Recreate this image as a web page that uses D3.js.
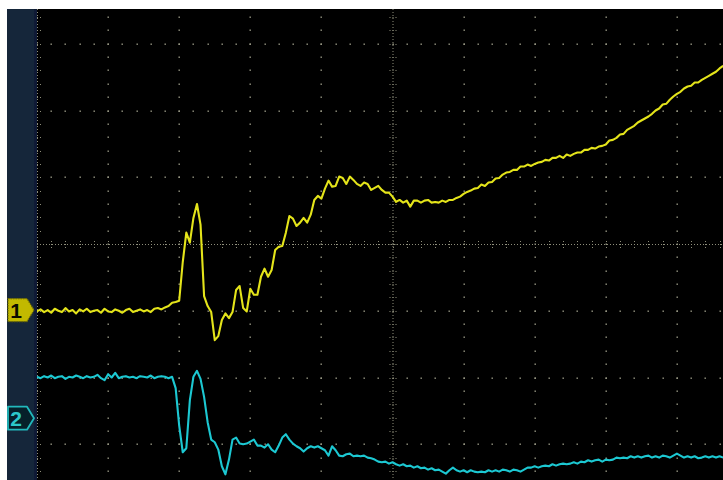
<!DOCTYPE html>
<html>
<head>
<meta charset="utf-8">
<script src="https://cdn.jsdelivr.net/npm/d3@7"></script>
<style>
  html, body { margin: 0; background: #fff; }
  svg { display: block; }
</style>
</head>
<body>
<svg width="723" height="480"></svg>
<script>
// Scope record: 20 samples per division, trigger at sample 100, values in mV
const ch1Samples = [
  -2, 1, -3, 0, -4, 2, -1, -3, 3, -2, 0, -5, 1, -2, 2, -3, -1, 0, -4, 2,
  -2, -3, 1, -1, -4, 0, 2, -3, -1, 1, -2, 0, -3, 2, 3, 1, 4, 6, 11, 12,
  14, 72, 116, 101, 138, 159, 128, 21, 6, -3, -45, -39, -15, -5, -12, -3, 30, 36, 3, -2,
  32, 23, 23, 50, 62, 50, 60, 90, 95, 96, 116, 141, 137, 126, 131, 138, 131, 143, 165, 171,
  167, 182, 194, 185, 186, 200, 198, 189, 200, 195, 189, 186, 191, 189, 180, 183, 186, 180, 176, 176,
  170, 162, 165, 161, 164, 155, 164, 164, 161, 164, 165, 161, 162, 161, 164, 162, 165, 165, 168, 170,
  174, 177, 179, 182, 183, 188, 186, 191, 192, 197, 198, 203, 206, 207, 210, 210, 215, 215, 218, 216,
  219, 221, 222, 225, 224, 228, 228, 231, 228, 233, 231, 234, 236, 236, 240, 240, 243, 242, 245, 246,
  248, 254, 255, 258, 263, 264, 270, 273, 276, 281, 284, 287, 290, 294, 299, 302, 308, 309, 315, 320,
  324, 327, 332, 335, 336, 341, 341, 345, 348, 351, 354, 357, 362, 366
];

const ch2Samples = [
  62, 60, 63, 61, 64, 60, 62, 63, 59, 62, 61, 64, 62, 60, 63, 61, 62, 65, 60, 57,
  66, 61, 68, 60, 62, 63, 61, 62, 60, 63, 62, 61, 64, 60, 62, 63, 62, 60, 62, 45,
  -11, -51, -45, 27, 62, 71, 59, 32, -6, -32, -36, -47, -72, -84, -62, -32, -29, -38, -39, -38,
  -35, -32, -41, -41, -44, -39, -47, -51, -41, -29, -24, -32, -38, -42, -45, -50, -45, -42, -44, -42,
  -45, -48, -56, -42, -48, -56, -57, -54, -53, -57, -56, -57, -56, -59, -60, -62, -65, -66, -65, -68,
  -66, -69, -71, -69, -72, -71, -74, -72, -75, -74, -77, -75, -78, -77, -80, -83, -78, -74, -78, -80,
  -78, -81, -78, -80, -81, -80, -81, -78, -80, -78, -80, -77, -78, -80, -77, -78, -80, -77, -74, -74,
  -72, -74, -72, -71, -72, -69, -71, -69, -68, -69, -68, -66, -68, -65, -66, -63, -65, -63, -62, -65,
  -62, -63, -62, -59, -60, -59, -60, -57, -59, -57, -59, -57, -56, -59, -57, -59, -56, -57, -59, -56,
  -53, -56, -59, -57, -59, -57, -60, -59, -57, -59, -57, -59, -57, -59
];

const samplesPerDiv = 20;
const triggerSample = 100;
const mVPerDiv = 100;
const channelOffsets = [-0.99, -2.61];   // div
const channelLabels = ["1", "2"];
const channelColors = ["#e4e41a", "#1cc8d2"];

const svg = d3.select("svg");

// screen divisions -> pixels (10 x 8 graticule, partly cropped)
const x = d3.scaleLinear().domain([-5, 5]).range([37, 748]);
const y = d3.scaleLinear().domain([-4, 4]).range([511, -23]);

const plotLeft = 37, plotTop = 9, plotRight = 723, plotBottom = 480;

// frame
svg.append("rect").attr("width", 723).attr("height", 480).attr("fill", "#fff");
svg.append("rect")
    .attr("x", 7).attr("y", plotTop)
    .attr("width", 28).attr("height", plotBottom - plotTop)
    .attr("fill", "#15263a");
svg.append("rect")
    .attr("x", 34).attr("y", plotTop)
    .attr("width", 3).attr("height", plotBottom - plotTop)
    .attr("fill", "#0f1a36");
svg.append("rect")
    .attr("x", plotLeft).attr("y", plotTop)
    .attr("width", plotRight - plotLeft).attr("height", plotBottom - plotTop)
    .attr("fill", "#000");

svg.append("clipPath").attr("id", "plot")
  .append("rect")
    .attr("x", plotLeft).attr("y", plotTop)
    .attr("width", plotRight - plotLeft).attr("height", plotBottom - plotTop);

const grid = svg.append("g").attr("clip-path", "url(#plot)");
const dotColor = "#9a9a86";
const minorX = d3.range(-50, 51, 2).map(d => d / 10);
const minorY = d3.range(-40, 41, 2).map(d => d / 10);

// dots along the major lines
const dots = [];
d3.range(-4, 6).filter(j => j !== 0).forEach(j => {
  minorY.forEach(m => dots.push([x(j), y(m)]));
});
d3.range(-3, 4).filter(k => k !== 0).forEach(k => {
  minorX.forEach(m => dots.push([x(m), y(k)]));
});
grid.selectAll("rect.dot")
  .data(dots).enter()
  .append("rect")
    .attr("class", "dot")
    .attr("x", d => Math.round(d[0]) - 0.5)
    .attr("y", d => Math.round(d[1]) - 0.5)
    .attr("width", 1.4).attr("height", 1.4)
    .attr("fill", dotColor);

// centre axes and left edge: fine dotted lines with ticks
const axisColor = "#8e8e7a";
function dotted(x1, y1, x2, y2) {
  grid.append("line")
      .attr("x1", x1).attr("y1", y1).attr("x2", x2).attr("y2", y2)
      .attr("stroke", axisColor)
      .attr("stroke-width", 1)
      .attr("stroke-dasharray", "1,2");
}
dotted(plotLeft, y(0) + 0.5, plotRight, y(0) + 0.5);
dotted(x(0) + 0.5, plotTop, x(0) + 0.5, plotBottom);
dotted(plotLeft + 0.5, plotTop, plotLeft + 0.5, plotBottom);

minorX.forEach(m => {
  const px = Math.round(x(m)) + 0.5;
  dotted(px, y(0) - 3, px, y(0) + 4);
});
minorY.forEach(m => {
  const py = Math.round(y(m)) + 0.5;
  dotted(x(0) - 3, py, x(0) + 4, py);
  dotted(plotLeft, py, plotLeft + 6, py);
});

// traces
const traces = svg.append("g").attr("clip-path", "url(#plot)");
[ch1Samples, ch2Samples].forEach(function (samples, c) {
  const line = d3.line()
      .x((d, i) => x((i - triggerSample) / samplesPerDiv))
      .y(d => y(d / mVPerDiv + channelOffsets[c]));
  traces.append("path")
      .attr("d", line(samples))
      .attr("fill", "none")
      .attr("stroke", channelColors[c])
      .attr("stroke-width", 2.1)
      .attr("stroke-linejoin", "round");
});

// channel ground markers
const markerStyles = [
  { fill: "#c2b900", stroke: "#6e6a00", width: 1.2, dash: "1.5,1", text: "#0a0a00" },
  { fill: "#06202a", stroke: "#22b8bc", width: 1.8, dash: null, text: "#2cc8ca" }
];
channelOffsets.forEach(function (off, c) {
  const cy = y(off);
  const s = markerStyles[c];
  const g = svg.append("g");
  g.append("path")
      .attr("d", "M8," + (cy - 11.5) + "H27L34," + cy + "L27," + (cy + 11.5) + "H8Z")
      .attr("fill", s.fill)
      .attr("stroke", s.stroke)
      .attr("stroke-width", s.width)
      .attr("stroke-linejoin", "round")
      .attr("stroke-dasharray", s.dash);
  g.append("text")
      .attr("x", 16)
      .attr("y", cy + 7.5)
      .attr("text-anchor", "middle")
      .style("font-family", "'Liberation Sans', Arial, sans-serif")
      .style("font-size", "21px")
      .style("font-weight", "bold")
      .attr("fill", s.text)
      .text(channelLabels[c]);
});
</script>
</body>
</html>
